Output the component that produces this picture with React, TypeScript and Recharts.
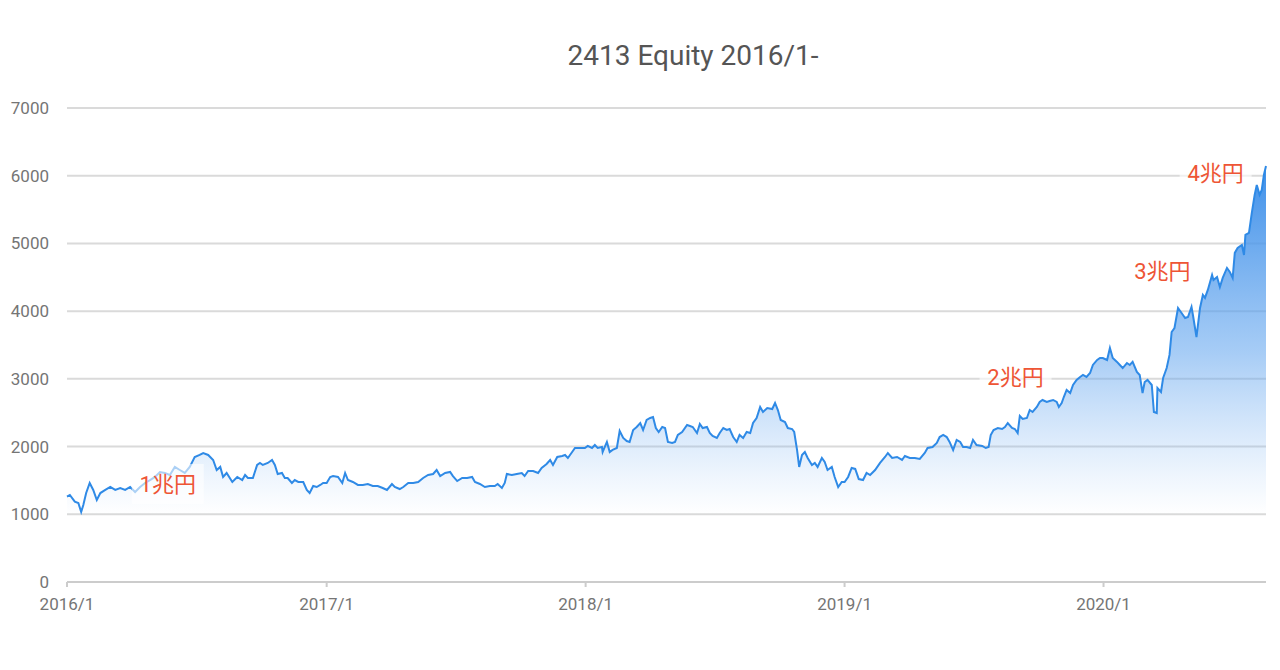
import React from 'react';
import { AreaChart, Area, XAxis, YAxis, CartesianGrid, ReferenceDot } from 'recharts';

// days since 2016/1/1
const dayOffsets = [
  0, 4, 11, 16, 20, 23, 27, 32, 37, 42, 47, 54, 61, 68, 75, 82, 89, 96, 103, 110,
  117, 124, 131, 138, 145, 152, 159, 166, 173, 180, 187, 192, 199, 206, 211, 216, 220, 225, 233, 240,
  247, 251, 255, 262, 268, 272,
  276, 283, 289, 293, 297, 303, 307, 311, 317, 321, 326, 333, 338, 342, 347, 352, 357, 361, 366, 371,
  375, 382, 388, 392, 396, 403, 410, 417, 424, 431, 438, 445, 451, 458, 462, 469, 474, 481, 488, 495,
  502, 509, 516, 521, 526, 533, 540, 544, 550, 557,
  564, 571, 575, 582, 589, 596, 603, 607, 613, 617, 620, 627, 634, 641, 645, 650, 657, 664, 669, 676,
  681, 685, 691, 698, 702, 706, 712, 716, 723, 730, 734, 740, 744, 748, 754, 755, 761, 765, 769, 775,
  779, 784, 789, 793, 798, 803, 808, 812, 817, 822, 826, 830, 834,
  839, 843, 847, 853, 857, 861, 867, 874, 878, 882, 888, 892, 896, 902, 906, 910, 916, 920, 925, 930,
  934, 939, 944, 948, 953, 958, 963, 967, 972, 977, 981, 987, 994, 998, 1002, 1006, 1012, 1016, 1022, 1025,
  1029, 1032, 1036, 1040, 1044, 1050, 1054, 1058, 1064, 1068, 1072, 1078, 1082, 1087, 1092, 1096, 1101, 1106, 1111, 1116,
  1122, 1127, 1132, 1139, 1146, 1153, 1157, 1163, 1170, 1177, 1181, 1188, 1195, 1202, 1209, 1213, 1220, 1226, 1230, 1235,
  1240, 1244, 1249, 1254, 1259, 1263, 1268, 1273, 1277, 1282, 1290, 1295, 1299, 1302, 1306, 1312, 1318, 1322, 1326, 1332,
  1336, 1340, 1343, 1347, 1353, 1357, 1361, 1367, 1371, 1375, 1381, 1385, 1390, 1395, 1398,
  1402, 1405, 1409, 1414, 1418, 1423, 1428, 1432, 1437, 1442, 1446, 1452, 1456, 1460, 1466, 1470, 1474, 1480, 1484, 1488,
  1494, 1498, 1502, 1508, 1512, 1516, 1519, 1523, 1529, 1532, 1536, 1537, 1542, 1545, 1550, 1554, 1557, 1561, 1566, 1571,
  1576, 1580, 1585, 1587, 1592, 1597, 1601, 1604, 1608, 1614, 1616, 1621, 1625, 1629, 1635, 1639, 1643, 1646, 1650, 1656,
  1659, 1661, 1666, 1670, 1674, 1677, 1681, 1684, 1687, 1690,
];

const prices = [
  1260, 1285, 1186, 1167, 1034, 1137, 1314, 1462, 1359, 1211, 1314, 1359, 1403, 1359, 1388, 1359, 1403, 1329, 1403, 1462,
  1506, 1551, 1625, 1610, 1580, 1700, 1654, 1610, 1700, 1846, 1876, 1905, 1876, 1802, 1654, 1700, 1551, 1610, 1477, 1551,
  1506, 1580, 1536, 1536, 1728, 1758,
  1728, 1758, 1802, 1728, 1595, 1610, 1536, 1536, 1462, 1506, 1477, 1477, 1359, 1314, 1418, 1403, 1433, 1462, 1462, 1551,
  1565, 1551, 1462, 1610, 1506, 1477, 1433, 1433, 1447, 1418, 1418, 1388, 1359, 1447, 1403, 1373, 1403, 1462, 1462, 1477,
  1536, 1580, 1595, 1654, 1565, 1610, 1625, 1565, 1491, 1536,
  1536, 1551, 1477, 1447, 1403, 1418, 1418, 1447, 1388, 1462, 1595, 1580, 1595, 1610, 1565, 1639, 1639, 1610, 1684, 1743,
  1802, 1728, 1846, 1861, 1876, 1831, 1920, 1979, 1979, 1979, 2009, 1979, 2023, 1979, 1994, 1920, 2068, 1920, 1950, 1979,
  2230, 2127, 2082, 2068, 2245, 2289, 2348, 2245, 2393, 2422, 2437, 2274, 2215,
  2289, 2274, 2068, 2053, 2068, 2171, 2215, 2318, 2304, 2289, 2200, 2333, 2274, 2289, 2200, 2156, 2127, 2200, 2274, 2245,
  2259, 2141, 2068, 2171, 2127, 2215, 2200, 2348, 2422, 2585, 2511, 2570, 2555, 2644, 2540, 2393, 2363, 2274, 2259, 2215,
  1950, 1699, 1876, 1920, 1831, 1728, 1758, 1699, 1831, 1772, 1654, 1699, 1551, 1403, 1477, 1477, 1551, 1684, 1670, 1520,
  1506, 1610, 1580, 1654, 1758, 1846, 1905, 1831, 1846, 1802, 1861, 1831, 1831, 1817, 1905, 1979, 1994, 2053, 2141, 2171,
  2141, 2068, 1950, 2097, 2068, 1994, 1994, 1979, 2097, 2023, 2009, 1979, 1994, 2171, 2245, 2274, 2259, 2289, 2348, 2274,
  2259, 2200, 2452, 2407, 2422, 2540, 2511, 2585, 2659, 2688, 2659, 2673, 2688, 2659, 2585,
  2644, 2732, 2836, 2791, 2909, 2984, 3028, 3057, 3028, 3087, 3205, 3279, 3308, 3308, 3279, 3456, 3308, 3250, 3205, 3160,
  3234, 3205, 3250, 3102, 3057, 2791, 2954, 2984, 2909, 2511, 2496, 2865, 2806, 3013, 3160, 3353, 3692, 3751, 4047, 3973,
  3899, 3914, 4062, 3943, 3618, 4047, 4239, 4195, 4313, 4535, 4461, 4505, 4357, 4490, 4638, 4579, 4490, 4860, 4934, 4978,
  4830, 5125, 5155, 5450, 5717, 5864, 5717, 5790, 6012, 6145,
];

const yearTicks = [0, 366, 731, 1096, 1461];
const yearTickLabels = ['2016/1', '2017/1', '2018/1', '2019/1', '2020/1'];
const valueTicks = [0, 1000, 2000, 3000, 4000, 5000, 6000, 7000];

const milestoneLabels = ['1兆円', '2兆円', '3兆円', '4兆円'];
const milestoneDays = [142, 1337, 1544, 1619];
const milestoneValues = [1447, 3020, 4586, 6034];

const chartTitle = '2413 Equity 2016/1-';

const data = dayOffsets.map((d, i) => ({ day: d, price: prices[i] }));

const FONT = "Roboto, 'Noto Sans CJK JP', sans-serif";

const MilestoneShape = (props: any) => {
  const { cx, cy, label } = props;
  if (cx == null || cy == null) return null;
  return (
    <g>
      <rect x={cx - 36} y={cy - 20} width={72} height={40} fill="#ffffff" fillOpacity={0.6} />
      <text
        x={cx}
        y={cy}
        textAnchor="middle"
        dominantBaseline="central"
        fontSize={22}
        fontFamily={FONT}
        fill="#ee5535"
      >
        {label}
      </text>
    </g>
  );
};

export default function App() {
  return (
    <div style={{ position: 'absolute', left: 0, top: 0, width: 1280, height: 670, background: '#fff' }}>
      <AreaChart
        width={1280}
        height={670}
        data={data}
        margin={{ top: 108, right: 14, bottom: 58, left: 0 }}
      >
        <defs>
          <linearGradient id="fillGrad" x1="0" y1="0" x2="0" y2="1">
            <stop offset="0" stopColor="#3d8fe9" stopOpacity={1} />
            <stop offset="0.45" stopColor="#5fa3ee" stopOpacity={0.55} />
            <stop offset="0.84" stopColor="#8cbcf3" stopOpacity={0} />
            <stop offset="1" stopColor="#ffffff" stopOpacity={0} />
          </linearGradient>
        </defs>
        <CartesianGrid vertical={false} stroke="#dadada" strokeWidth={2} />
        <XAxis
          type="number"
          dataKey="day"
          domain={[0, 1690]}
          ticks={yearTicks}
          tickFormatter={(v: number) => yearTickLabels[yearTicks.indexOf(v)] ?? ''}
          height={30}
          tickSize={5}
          tickMargin={11}
          axisLine={{ stroke: '#cccccc', strokeWidth: 2 }}
          tickLine={{ stroke: '#cccccc', strokeWidth: 2 }}
          tick={{ fill: '#757575', fontSize: 17, fontFamily: FONT }}
        />
        <YAxis
          type="number"
          domain={[0, 7000]}
          ticks={valueTicks}
          width={67}
          axisLine={false}
          tickLine={false}
          tickSize={0}
          tickMargin={18}
          tick={{ fill: '#757575', fontSize: 17, fontFamily: FONT }}
        />
        <Area
          type="linear"
          dataKey="price"
          stroke="#2f8ae6"
          strokeWidth={2}
          fill="url(#fillGrad)"
          fillOpacity={1}
          dot={false}
          activeDot={false}
          isAnimationActive={false}
        />
        {milestoneLabels.map((lab, i) => (
          <ReferenceDot
            key={lab}
            x={milestoneDays[i]}
            y={milestoneValues[i]}
            r={0}
            ifOverflow="visible"
            shape={(p: any) => <MilestoneShape {...p} label={lab} />}
          />
        ))}
      </AreaChart>
      <svg
        width={1280}
        height={100}
        style={{ position: 'absolute', left: 0, top: 0, pointerEvents: 'none' }}
      >
        <text x={693} y={65} textAnchor="middle" fontSize={28} fontFamily={FONT} fill="#555555">
          {chartTitle}
        </text>
      </svg>
    </div>
  );
}
